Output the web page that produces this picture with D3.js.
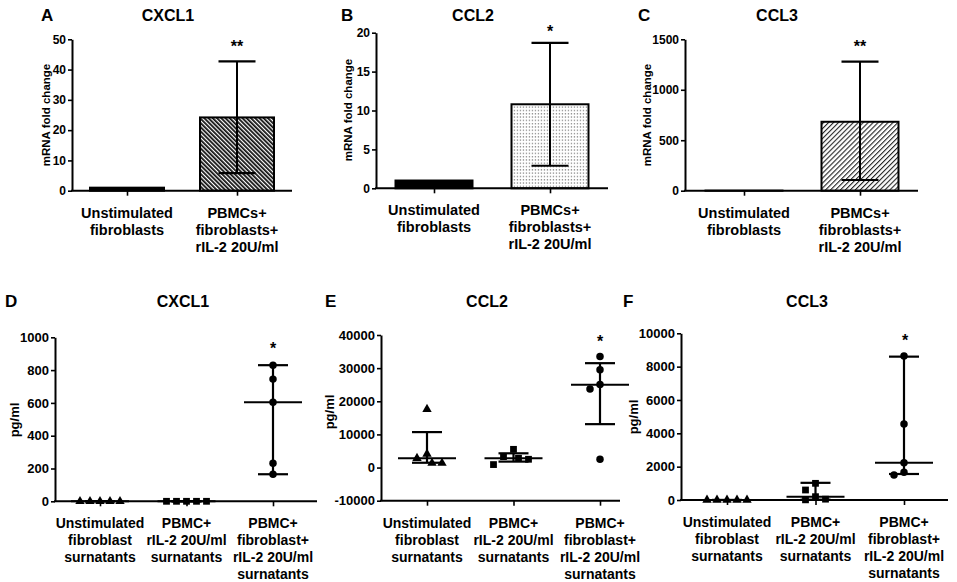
<!DOCTYPE html>
<html><head><meta charset="utf-8">
<script src="https://cdn.jsdelivr.net/npm/d3@7"></script>
<style>
body{margin:0;background:#fff}
svg{display:block}
text{font-family:"Liberation Sans",Arial,Helvetica,sans-serif;font-weight:bold;fill:#000}
</style>
</head><body>
<svg id="chart" width="957" height="582"></svg>
<script>
// ---------- DATA ----------
const barCategories = ["Unstimulated fibroblasts", "PBMCs+ fibroblasts+ rIL-2 20U/ml"];
const barCategoryLines = [["Unstimulated", "fibroblasts"], ["PBMCs+", "fibroblasts+", "rIL-2 20U/ml"]];

const cxcl1MrnaMean = [1, 24.2];
const cxcl1MrnaLow  = [null, 5.8];
const cxcl1MrnaHigh = [null, 42.7];
const cxcl1MrnaTicks = [0, 10, 20, 30, 40, 50];

const ccl2MrnaMean = [1, 10.8];
const ccl2MrnaLow  = [null, 2.9];
const ccl2MrnaHigh = [null, 18.7];
const ccl2MrnaTicks = [0, 5, 10, 15, 20];

const ccl3MrnaMean = [1, 683];
const ccl3MrnaLow  = [null, 106];
const ccl3MrnaHigh = [null, 1278];
const ccl3MrnaTicks = [0, 500, 1000, 1500];

const scatterCategories = ["Unstimulated fibroblast surnatants", "PBMC+ rIL-2 20U/ml surnatants", "PBMC+ fibroblast+ rIL-2 20U/ml surnatants"];
const scatterCategoryLines = [["Unstimulated", "fibroblast", "surnatants"], ["PBMC+", "rIL-2 20U/ml", "surnatants"], ["PBMC+", "fibroblast+", "rIL-2 20U/ml", "surnatants"]];

const cxcl1Unstim = [0, 0, 0, 0, 0];
const cxcl1Pbmc   = [0, 0, 0, 0, 0];
const cxcl1Co     = [830, 745, 604, 232, 165];
const cxcl1Median = [0, 0, 604];
const cxcl1Low    = [0, 0, 165];
const cxcl1High   = [0, 0, 830];
const cxcl1Ticks  = [0, 200, 400, 600, 800, 1000];

const ccl2Unstim = [17600, 4100, 2830, 1350, 1350];
const ccl2Pbmc   = [5500, 3300, 2800, 2500, 900];
const ccl2Co     = [33500, 29500, 25100, 23700, 2500];
const ccl2Median = [2830, 2800, 25000];
const ccl2Low    = [1450, 1800, 13100];
const ccl2High   = [10700, 4300, 31500];
const ccl2Ticks  = [-10000, 0, 10000, 20000, 30000, 40000];

const ccl3Unstim = [0, 0, 0, 0, 0];
const ccl3Pbmc   = [1000, 600, 200, 50, 10];
const ccl3Co     = [8640, 4560, 2240, 1660, 1500];
const ccl3Median = [0, 200, 2240];
const ccl3Low    = [0, 20, 1560];
const ccl3High   = [0, 1030, 8600];
const ccl3Ticks  = [0, 2000, 4000, 6000, 8000, 10000];

// ---------- DRAWING ----------
const svg = d3.select("#chart");
const defs = svg.append("defs");

const pA = defs.append("pattern").attr("id", "hatchA").attr("width", 3).attr("height", 3)
  .attr("patternUnits", "userSpaceOnUse").attr("patternTransform", "rotate(-45)");
pA.append("rect").attr("width", 3).attr("height", 3).attr("fill", "#fff");
pA.append("rect").attr("width", 1.8).attr("height", 3).attr("fill", "#111");

const pC = defs.append("pattern").attr("id", "hatchC").attr("width", 3.5).attr("height", 3.5)
  .attr("patternUnits", "userSpaceOnUse").attr("patternTransform", "rotate(45)");
pC.append("rect").attr("width", 3.5).attr("height", 3.5).attr("fill", "#fff");
pC.append("rect").attr("width", 1.1).attr("height", 3.5).attr("fill", "#222");

const pB = defs.append("pattern").attr("id", "dots").attr("width", 3).attr("height", 3.3)
  .attr("patternUnits", "userSpaceOnUse");
pB.append("rect").attr("width", 3).attr("height", 3.3).attr("fill", "#fff");
pB.append("rect").attr("x", 0.8).attr("y", 0.9).attr("width", 1.3).attr("height", 1.3).attr("fill", "#8a8a8a");

function panelText(cfg) {
  svg.append("text").attr("x", cfg.letterX).attr("y", cfg.titleY)
    .attr("font-size", 17).text(cfg.letter);
  svg.append("text").attr("x", cfg.titleX).attr("y", cfg.titleY)
    .attr("text-anchor", "middle").attr("font-size", 16).text(cfg.title);
  svg.append("text").attr("transform", `translate(${cfg.yLabelX},${cfg.yLabelY}) rotate(-90)`)
    .attr("text-anchor", "middle").attr("font-size", cfg.yLabelSize).text(cfg.yLabel);
  svg.append("text").attr("x", cfg.starX).attr("y", cfg.starY + 0.55 * 16)
    .attr("text-anchor", "middle").attr("font-size", 16).text(cfg.star);
}

function drawYAxis(g, y, ticks, x0, fs) {
  const ax = g.append("g").attr("transform", `translate(${x0},0)`)
    .call(d3.axisLeft(y).tickValues(ticks).tickFormat(d => String(d))
      .tickSize(4).tickSizeOuter(0).tickPadding(2));
  ax.select(".domain").attr("stroke", "#000").attr("stroke-width", 2);
  ax.selectAll(".tick line").attr("stroke", "#000").attr("stroke-width", 1.6);
  ax.selectAll(".tick text").attr("font-size", fs).attr("font-family", '"Liberation Sans",Arial,sans-serif')
    .attr("font-weight", "bold").attr("fill", "#000");
}

function drawXAxis(g, x, yLine, x0, x1, lines, fs) {
  g.append("line").attr("x1", x0 - 1).attr("x2", x1).attr("y1", yLine).attr("y2", yLine)
    .attr("stroke", "#000").attr("stroke-width", 2);
  const ax = g.append("g").attr("transform", `translate(0,${yLine})`)
    .call(d3.axisBottom(x).tickSize(5).tickFormat(""));
  ax.select(".domain").remove();
  ax.selectAll(".tick line").attr("stroke", "#000").attr("stroke-width", 1.6);
  x.domain().forEach((c, i) => {
    const t = g.append("text").attr("text-anchor", "middle").attr("font-size", fs);
    lines[i].forEach((ln, j) => {
      t.append("tspan").attr("x", x(c)).attr("y", yLine + 27 + j * 17).text(ln);
    });
  });
}

function drawBarPanel(cfg) {
  const g = svg.append("g");
  const y = d3.scaleLinear().domain(cfg.domain).range([cfg.yBot, cfg.yTop]);
  const x = d3.scalePoint().domain(barCategories).range(cfg.catRange);
  cfg.mean.forEach((v, i) => {
    const c = barCategories[i];
    g.append("rect")
      .attr("x", x(c) - cfg.barW / 2).attr("width", cfg.barW)
      .attr("y", y(v)).attr("height", y(0) - y(v))
      .attr("fill", cfg.fills[i]).attr("stroke", "#000").attr("stroke-width", 2);
  });
  cfg.mean.forEach((v, i) => {
    if (cfg.high[i] == null) return;
    const cx = x(barCategories[i]);
    g.append("line").attr("x1", cx).attr("x2", cx).attr("y1", y(cfg.low[i])).attr("y2", y(cfg.high[i]))
      .attr("stroke", "#000").attr("stroke-width", 2);
    [cfg.low[i], cfg.high[i]].forEach(e => {
      g.append("line").attr("x1", cx - 18.5).attr("x2", cx + 18.5).attr("y1", y(e)).attr("y2", y(e))
        .attr("stroke", "#000").attr("stroke-width", 2.2);
    });
  });
  drawYAxis(g, y, cfg.ticks, cfg.x0, 12);
  drawXAxis(g, x, y(0), cfg.x0, cfg.x1, barCategoryLines, 14.5);
  panelText(cfg);
}

function beeswarm(vals, y, cx, step, minD) {
  const placed = [];
  return vals.map(v => {
    const py = y(v);
    let k = 0, dx = 0;
    while (true) {
      const off = k === 0 ? 0 : (k % 2 === 1 ? -Math.ceil(k / 2) : Math.ceil(k / 2)) * step;
      const ok = placed.every(p => Math.hypot(p[0] - (cx + off), p[1] - py) >= minD);
      if (ok) { dx = off; break; }
      k++;
    }
    const pt = [cx + dx, py];
    placed.push(pt);
    return pt;
  });
}

const symbols = [d3.symbolTriangle, d3.symbolSquare, d3.symbolCircle];
const symbolSizes = [38, 46, 44];

function drawScatterPanel(cfg) {
  const g = svg.append("g");
  const y = d3.scaleLinear().domain(cfg.domain).range([cfg.yBot, cfg.yTop]);
  const x = d3.scalePoint().domain(scatterCategories).range(cfg.catRange);
  cfg.groups.forEach((vals, i) => {
    const cx = x(scatterCategories[i]);
    const pts = beeswarm(vals, y, cx, 5, 9.5);
    g.append("line").attr("x1", cx).attr("x2", cx).attr("y1", y(cfg.low[i])).attr("y2", y(cfg.high[i]))
      .attr("stroke", "#000").attr("stroke-width", 2.2);
    [cfg.low[i], cfg.high[i]].forEach(e => {
      g.append("line").attr("x1", cx - 15).attr("x2", cx + 15).attr("y1", y(e)).attr("y2", y(e))
        .attr("stroke", "#000").attr("stroke-width", 2.2);
    });
    g.append("line").attr("x1", cx - 29).attr("x2", cx + 29).attr("y1", y(cfg.median[i])).attr("y2", y(cfg.median[i]))
      .attr("stroke", "#000").attr("stroke-width", 2);
    const sym = d3.symbol().type(symbols[i]).size(symbolSizes[i]);
    pts.forEach(p => {
      g.append("path").attr("d", sym).attr("transform", `translate(${p[0]},${p[1]})`).attr("fill", "#000");
    });
  });
  drawYAxis(g, y, cfg.ticks, cfg.x0, 13);
  const xLineY = cfg.domain[0] < 0 ? y(cfg.domain[0]) : y(0);
  drawXAxis(g, x, xLineY, cfg.x0, cfg.x1, scatterCategoryLines, 14);
  panelText(cfg);
}

// ---------- PANELS ----------
drawBarPanel({
  letter: "A", title: "CXCL1", letterX: 41, titleX: 168, titleY: 20.5,
  yLabel: "mRNA fold change", yLabelX: 50, yLabelY: 115, yLabelSize: 11.5,
  star: "**", starX: 237, starY: 43,
  x0: 72, x1: 292, yTop: 39.3, yBot: 190.7, domain: [0, 50], ticks: cxcl1MrnaTicks,
  catRange: [127, 237], barW: 74,
  mean: cxcl1MrnaMean, low: cxcl1MrnaLow, high: cxcl1MrnaHigh,
  fills: ["#000", "url(#hatchA)"]
});
drawBarPanel({
  letter: "B", title: "CCL2", letterX: 341, titleX: 473, titleY: 20.5,
  yLabel: "mRNA fold change", yLabelX: 352, yLabelY: 110, yLabelSize: 11.5,
  star: "*", starX: 550, starY: 28,
  x0: 376, x1: 608, yTop: 32.7, yBot: 188.3, domain: [0, 20], ticks: ccl2MrnaTicks,
  catRange: [434, 550], barW: 77,
  mean: ccl2MrnaMean, low: ccl2MrnaLow, high: ccl2MrnaHigh,
  fills: ["#000", "url(#dots)"]
});
drawBarPanel({
  letter: "C", title: "CCL3", letterX: 638, titleX: 777, titleY: 20.5,
  yLabel: "mRNA fold change", yLabelX: 651, yLabelY: 115, yLabelSize: 11.5,
  star: "**", starX: 860, starY: 43,
  x0: 685, x1: 918, yTop: 39.3, yBot: 190.7, domain: [0, 1500], ticks: ccl3MrnaTicks,
  catRange: [744, 860], barW: 77,
  mean: ccl3MrnaMean, low: ccl3MrnaLow, high: ccl3MrnaHigh,
  fills: ["#000", "url(#hatchC)"]
});

drawScatterPanel({
  letter: "D", title: "CXCL1", letterX: 5, titleX: 183, titleY: 307,
  yLabel: "pg/ml", yLabelX: 19, yLabelY: 420, yLabelSize: 13,
  star: "*", starX: 273, starY: 345,
  x0: 55, x1: 317, yTop: 337.3, yBot: 501.3, domain: [0, 1000], ticks: cxcl1Ticks,
  catRange: [100, 273],
  groups: [cxcl1Unstim, cxcl1Pbmc, cxcl1Co], median: cxcl1Median, low: cxcl1Low, high: cxcl1High
});
drawScatterPanel({
  letter: "E", title: "CCL2", letterX: 325, titleX: 487, titleY: 307,
  yLabel: "pg/ml", yLabelX: 334, yLabelY: 412, yLabelSize: 13,
  star: "*", starX: 600, starY: 338,
  x0: 381, x1: 620, yTop: 335, yBot: 500.7, domain: [-10000, 40000], ticks: ccl2Ticks,
  catRange: [427, 600],
  groups: [ccl2Unstim, ccl2Pbmc, ccl2Co], median: ccl2Median, low: ccl2Low, high: ccl2High
});
drawScatterPanel({
  letter: "F", title: "CCL3", letterX: 623, titleX: 807, titleY: 307,
  yLabel: "pg/ml", yLabelX: 638, yLabelY: 417, yLabelSize: 13,
  star: "*", starX: 905, starY: 337,
  x0: 681, x1: 948, yTop: 333.3, yBot: 500, domain: [0, 10000], ticks: ccl3Ticks,
  catRange: [727, 904],
  groups: [ccl3Unstim, ccl3Pbmc, ccl3Co], median: ccl3Median, low: ccl3Low, high: ccl3High
});
</script>
</body></html>
